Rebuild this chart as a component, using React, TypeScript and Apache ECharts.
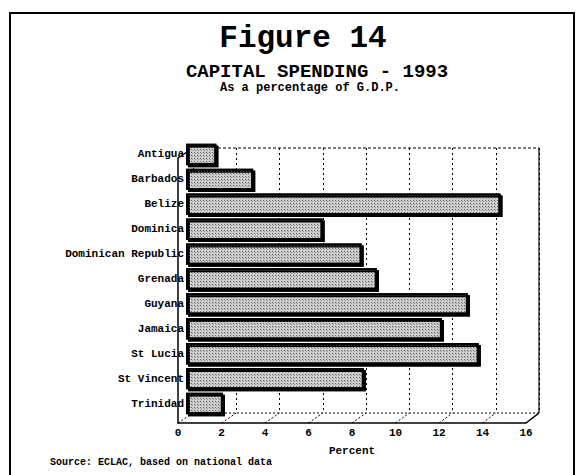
import React, { useEffect, useRef } from "react";
import * as echarts from "echarts";

const categories = [
  "Antigua",
  "Barbados",
  "Belize",
  "Dominica",
  "Dominican Republic",
  "Grenada",
  "Guyana",
  "Jamaica",
  "St Lucia",
  "St Vincent",
  "Trinidad",
];
const values = [1.4, 3.1, 14.5, 6.3, 8.1, 8.8, 13.0, 11.8, 13.5, 8.2, 1.7];
const xTicks = [0, 2, 4, 6, 8, 10, 12, 14, 16];

const FONT = "'Liberation Mono', 'Courier New', monospace";

// layout of the pseudo-3D box
const FRONT = { left: 178, top: 158, width: 348, height: 265 };
const BACK = { left: 193, top: 148, width: 346, height: 265 };
const BARS = { left: 186, top: 142, width: 347, height: 274 };

export default function App() {
  const ref = useRef<HTMLDivElement>(null);
  useEffect(() => {
    if (!ref.current) return;
    const chart = echarts.init(ref.current, null, { renderer: "svg" });
    const hiddenCat = {
      type: "category" as const,
      data: categories,
      inverse: true,
      show: false,
    };
    const option: any = {
      animation: false,
      backgroundColor: "#fff",
      title: [
        {
          text: "Figure 14",
          left: 298,
          top: 17,
          textAlign: "center",
          textStyle: { fontFamily: FONT, fontWeight: "bold", fontSize: 31, color: "#000", lineHeight: 32 },
        },
        {
          text: "CAPITAL SPENDING - 1993",
          left: 312,
          top: 58,
          textAlign: "center",
          textStyle: { fontFamily: FONT, fontWeight: "bold", fontSize: 19, color: "#000", lineHeight: 17 },
        },
        {
          text: "As a percentage of G.D.P.",
          left: 305,
          top: 77,
          textAlign: "center",
          textStyle: { fontFamily: FONT, fontWeight: "bold", fontSize: 12, color: "#000", lineHeight: 12 },
        },
      ],
      grid: [
        { ...BACK, containLabel: false },
        { ...BARS, containLabel: false },
        { ...FRONT, containLabel: false },
      ],
      xAxis: [
        {
          gridIndex: 0,
          type: "value",
          min: 0,
          max: 16,
          interval: 2,
          axisLine: { show: false },
          axisTick: { show: false },
          axisLabel: { show: false },
          splitLine: { show: true, lineStyle: { color: "#000", type: [2, 3], width: 1 } },
        },
        {
          gridIndex: 1,
          type: "value",
          min: 0,
          max: 16,
          interval: 2,
          show: false,
          splitLine: { show: false },
        },
        {
          gridIndex: 2,
          type: "value",
          min: 0,
          max: 16,
          interval: 2,
          axisLine: { show: true, lineStyle: { color: "#000", width: 1.5 } },
          axisTick: { show: false },
          axisLabel: {
            margin: 4,
            fontFamily: FONT,
            fontWeight: "bold",
            fontSize: 11,
            color: "#000",
            formatter: (v: number) => (xTicks.includes(v) ? String(v) : ""),
          },
          splitLine: { show: false },
          name: "Percent",
          nameLocation: "middle",
          nameGap: 22,
          nameTextStyle: { fontFamily: FONT, fontWeight: "bold", fontSize: 11, color: "#000" },
        },
      ],
      yAxis: [
        { ...hiddenCat, gridIndex: 0 },
        {
          type: "category",
          gridIndex: 1,
          data: categories,
          inverse: true,
          axisLine: { show: false },
          axisTick: { show: false },
          axisLabel: {
            margin: 2,
            fontFamily: FONT,
            fontWeight: "bold",
            fontSize: 11,
            color: "#000",
          },
        },
        {
          type: "category",
          gridIndex: 2,
          data: categories,
          inverse: true,
          axisLine: { show: true, lineStyle: { color: "#000", width: 1.5 } },
          axisTick: { show: false },
          axisLabel: { show: false },
        },
      ],
      series: [
        {
          type: "bar",
          xAxisIndex: 1,
          yAxisIndex: 1,
          data: values,
          barWidth: "86%",
          itemStyle: {
            color: "#cfcfcf",
            borderColor: "#000",
            borderWidth: 2,
            shadowColor: "#000",
            shadowOffsetX: 2,
            shadowOffsetY: 2,
            shadowBlur: 0,
            decal: {
              symbol: "rect",
              symbolSize: 1,
              dashArrayX: [1, 2],
              dashArrayY: [1, 2],
              color: "rgba(90,90,90,0.55)",
              rotation: 0,
            },
          },
        },
      ],
    };
    chart.setOption(option);

    // 3D box decorations derived from the axes
    const lines: any[] = [];
    const frontBottom = FRONT.top + FRONT.height;
    const backBottom = BACK.top + BACK.height;
    xTicks.forEach((t) => {
      const fx = chart.convertToPixel({ xAxisIndex: 2 }, t) as number;
      const bx = chart.convertToPixel({ xAxisIndex: 0 }, t) as number;
      lines.push({
        type: "line",
        shape: { x1: fx, y1: frontBottom, x2: bx, y2: backBottom },
        style: { stroke: "#000", lineWidth: 1, lineDash: [2, 2] },
        z: 1,
      });
    });
    const b0 = chart.convertToPixel({ xAxisIndex: 0 }, 0) as number;
    const b16 = chart.convertToPixel({ xAxisIndex: 0 }, 16) as number;
    const f0 = chart.convertToPixel({ xAxisIndex: 2 }, 0) as number;
    const f16 = chart.convertToPixel({ xAxisIndex: 2 }, 16) as number;
    lines.push(
      {
        type: "line",
        shape: { x1: b0, y1: BACK.top, x2: b16, y2: BACK.top },
        style: { stroke: "#000", lineWidth: 1, lineDash: [3, 2] },
      },
      {
        type: "line",
        shape: { x1: b16, y1: BACK.top, x2: b16, y2: backBottom },
        style: { stroke: "#000", lineWidth: 1.2 },
      },
      {
        type: "line",
        shape: { x1: b0, y1: backBottom, x2: b16, y2: backBottom },
        style: { stroke: "#000", lineWidth: 1, lineDash: [2, 2] },
      },
      {
        type: "line",
        shape: { x1: f0, y1: FRONT.top, x2: b0, y2: BACK.top },
        style: { stroke: "#000", lineWidth: 1.5 },
      },
      {
        type: "line",
        shape: { x1: f16, y1: frontBottom, x2: b16, y2: backBottom },
        style: { stroke: "#000", lineWidth: 1.5 },
      },
      {
        type: "rect",
        shape: { x: 10, y: 13, width: 564, height: 480 },
        style: { fill: "none", stroke: "#000", lineWidth: 2 },
      },
      {
        type: "text",
        x: 50,
        y: 457,
        style: {
          text: "Source: ECLAC, based on national data",
          font: `bold 10px ${FONT}`,
          fill: "#000",
        },
      }
    );
    chart.setOption({ graphic: lines });

    return () => chart.dispose();
  }, []);
  return (
    <div
      ref={ref}
      style={{ position: "fixed", left: 0, top: 0, width: 577, height: 475 }}
    />
  );
}
